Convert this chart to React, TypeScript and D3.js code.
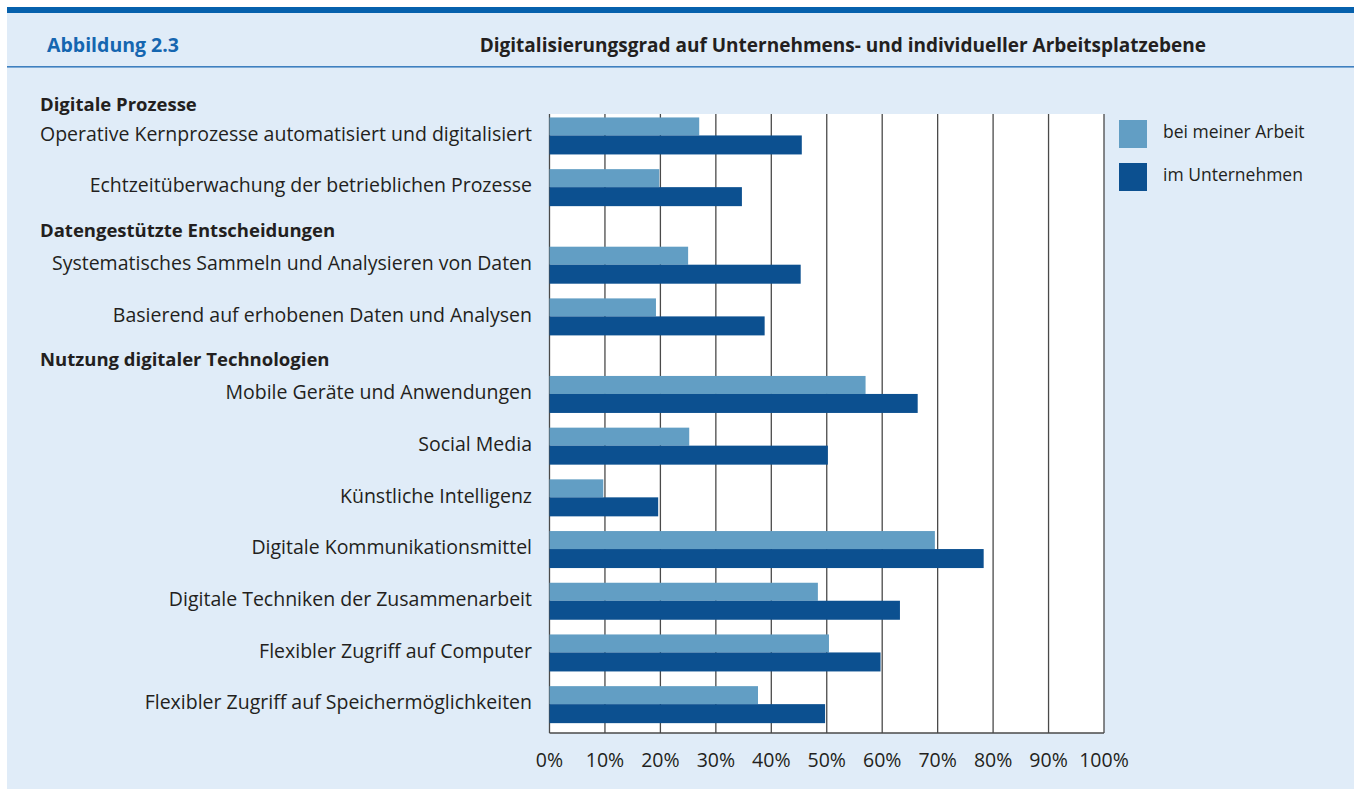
import { useEffect, useRef } from 'react';
import * as d3 from 'd3';

// rows in drawing order; headers have no values
const rowKinds = ['h', 'r', 'r', 'h', 'r', 'r', 'h', 'r', 'r', 'r', 'r', 'r', 'r', 'r'];
const rowLabels = [
  'Digitale Prozesse',
  'Operative Kernprozesse automatisiert und digitalisiert',
  'Echtzeitüberwachung der betrieblichen Prozesse',
  'Datengestützte Entscheidungen',
  'Systematisches Sammeln und Analysieren von Daten',
  'Basierend auf erhobenen Daten und Analysen',
  'Nutzung digitaler Technologien',
  'Mobile Geräte und Anwendungen',
  'Social Media',
  'Künstliche Intelligenz',
  'Digitale Kommunikationsmittel',
  'Digitale Techniken der Zusammenarbeit',
  'Flexibler Zugriff auf Computer',
  'Flexibler Zugriff auf Speichermöglichkeiten',
];
const arbeitValues = [null, 27, 19.8, null, 25, 19.2, null, 57, 25.2, 9.7, 69.5, 48.4, 50.4, 37.6];
const unternehmenValues = [null, 45.5, 34.7, null, 45.3, 38.8, null, 66.4, 50.2, 19.6, 78.3, 63.2, 59.7, 49.7];
const seriesNames = ['bei meiner Arbeit', 'im Unternehmen'];
const tickValues = [0, 10, 20, 30, 40, 50, 60, 70, 80, 90, 100];

const W = 1359;
const H = 789;
const FONT = '"Open Sans", "Noto Sans", sans-serif';
const LIGHT = '#629ec4';
const DARK = '#0c5090';
const TEXT = '#231f20';

const App = () => {
  const ref = useRef<SVGSVGElement>(null);

  useEffect(() => {
    const svg = d3.select(ref.current);
    svg.selectAll('*').remove();

    const plot = { left: 549.5, right: 1104, top: 114, bottom: 733 };

    // background panel
    svg.append('rect').attr('x', 7).attr('y', 13).attr('width', 1347).attr('height', 776).attr('fill', '#e0ecf8');
    svg.append('rect').attr('x', 7).attr('y', 7).attr('width', 1347).attr('height', 6).attr('fill', '#0661ad');
    svg.append('rect').attr('x', 7).attr('y', 66).attr('width', 1347).attr('height', 1.6).attr('fill', '#3f80c0');

    svg.append('text')
      .attr('x', 47).attr('y', 52)
      .attr('font-family', FONT).attr('font-size', 19.5).attr('font-weight', 700)
      .attr('fill', '#1566b0')
      .text('Abbildung 2.3');
    svg.append('text')
      .attr('x', 1206).attr('y', 52)
      .attr('text-anchor', 'end')
      .attr('font-family', FONT).attr('font-size', 19).attr('font-weight', 700)
      .attr('fill', TEXT)
      .text('Digitalisierungsgrad auf Unternehmens- und individueller Arbeitsplatzebene');

    // unit positions: rows take 1, headers take 0.5
    const units: number[] = [];
    let u = 0;
    rowKinds.forEach((k, i) => {
      if (k === 'h') {
        if (i > 0) u += 0.5;
        units.push(u - (i === 0 ? 0.56 : 0.64) + 0.5);
      } else {
        units.push(u + 0.5);
        u += 1;
      }
    });

    const x = d3.scaleLinear().domain([0, 100]).range([plot.left, plot.right]);
    const y = d3.scaleLinear().domain([0, 12]).range([109.6, 730]);

    svg.append('rect')
      .attr('x', plot.left).attr('y', plot.top)
      .attr('width', plot.right - plot.left).attr('height', plot.bottom - plot.top)
      .attr('fill', '#fff');

    // gridlines
    svg.append('g')
      .selectAll('line')
      .data(tickValues)
      .join('line')
      .attr('x1', d => x(d)).attr('x2', d => x(d))
      .attr('y1', plot.top).attr('y2', plot.bottom)
      .attr('stroke', '#4a4a4a').attr('stroke-width', 1.3);

    svg.append('line')
      .attr('x1', plot.left).attr('x2', plot.right)
      .attr('y1', plot.bottom).attr('y2', plot.bottom)
      .attr('stroke', '#4a4a4a').attr('stroke-width', 1.3);

    const lightH = 18;
    const darkH = 19;
    const rows = rowKinds.map((k, i) => ({ k, i, c: y(units[i]) })).filter(d => d.k === 'r');

    svg.append('g')
      .selectAll('rect')
      .data(rows)
      .join('rect')
      .attr('x', plot.left)
      .attr('y', d => d.c - lightH)
      .attr('width', d => x(arbeitValues[d.i] as number) - plot.left)
      .attr('height', lightH)
      .attr('fill', LIGHT);

    svg.append('g')
      .selectAll('rect')
      .data(rows)
      .join('rect')
      .attr('x', plot.left)
      .attr('y', d => d.c)
      .attr('width', d => x(unternehmenValues[d.i] as number) - plot.left)
      .attr('height', darkH)
      .attr('fill', DARK);

    // row labels
    svg.append('g')
      .selectAll('text')
      .data(rowKinds.map((k, i) => ({ k, i })))
      .join('text')
      .attr('x', d => (d.k === 'h' ? 40 : 532))
      .attr('y', d => y(units[d.i]) - 1.5)
      .attr('dy', '0.35em')
      .attr('text-anchor', d => (d.k === 'h' ? 'start' : 'end'))
      .attr('font-family', FONT)
      .attr('font-size', d => (d.k === 'h' ? 18.5 : 19.5))
      .attr('font-weight', d => (d.k === 'h' ? 700 : 400))
      .attr('fill', TEXT)
      .text(d => rowLabels[d.i]);

    // x tick labels
    svg.append('g')
      .selectAll('text')
      .data(tickValues)
      .join('text')
      .attr('x', d => x(d))
      .attr('y', 760)
      .attr('dy', '0.35em')
      .attr('text-anchor', 'middle')
      .attr('font-family', FONT)
      .attr('font-size', 19.5)
      .attr('fill', TEXT)
      .text(d => `${d}%`);

    // legend
    const legend = svg.append('g').selectAll('g').data(seriesNames).join('g')
      .attr('transform', (d, i) => `translate(1119, ${120 + i * 43})`);
    legend.append('rect').attr('width', 28).attr('height', 28).attr('fill', (d, i) => (i === 0 ? LIGHT : DARK));
    legend.append('text')
      .attr('x', 44).attr('y', 12).attr('dy', '0.35em')
      .attr('font-family', FONT).attr('font-size', 17.5)
      .attr('fill', TEXT)
      .text(d => d);
  }, []);

  return <svg ref={ref} width={W} height={H} style={{ display: 'block', position: 'absolute', left: 0, top: 0 }} />;
};

export default App;
